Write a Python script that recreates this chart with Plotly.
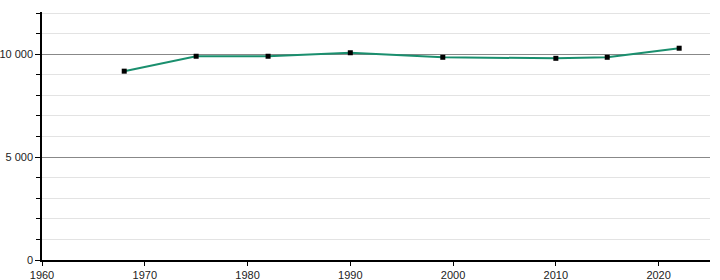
import plotly.graph_objects as go

years = [1968, 1975, 1982, 1990, 1999, 2010, 2015, 2022]
population = [9175, 9900, 9900, 10070, 9850, 9800, 9850, 10290]
x_ticks = [1960, 1970, 1980, 1990, 2000, 2010, 2020]
y_major = [0, 5000, 10000]
y_major_labels = ["0", "5 000", "10 000"]

fig = go.Figure()
fig.add_trace(go.Scatter(
    x=years, y=population, mode="lines+markers",
    line=dict(color="#1a8f6e", width=2),
    marker=dict(symbol="square", size=5, color="black"),
    hoverinfo="x+y",
))

fig.update_layout(
    width=720, height=280,
    margin=dict(l=42, r=10, t=12, b=20),
    paper_bgcolor="white", plot_bgcolor="white",
    showlegend=False,
    separators=". ",
    font=dict(family="Liberation Sans, Arial, sans-serif", size=11, color="#222"),
    xaxis=dict(
        range=[1960, 2025], tickmode="array", tickvals=x_ticks,
        ticks="outside", ticklen=4, tickcolor="black",
        showline=True, linecolor="black", linewidth=1.5,
        showgrid=False, zeroline=False, automargin=False,
    ),
    yaxis=dict(
        range=[0, 12050], tickmode="array", tickvals=y_major, ticktext=y_major_labels,
        ticks="outside", ticklen=5, tickcolor="black",
        showline=True, linecolor="black", linewidth=1.5,
        showgrid=True, gridcolor="#888", gridwidth=1, zeroline=False, automargin=False,
        minor=dict(dtick=1000, tick0=0, ticks="outside", ticklen=4, tickcolor="black",
                   showgrid=True, gridcolor="#e3e3e3", gridwidth=1),
    ),
)

fig.write_html("out.html")
